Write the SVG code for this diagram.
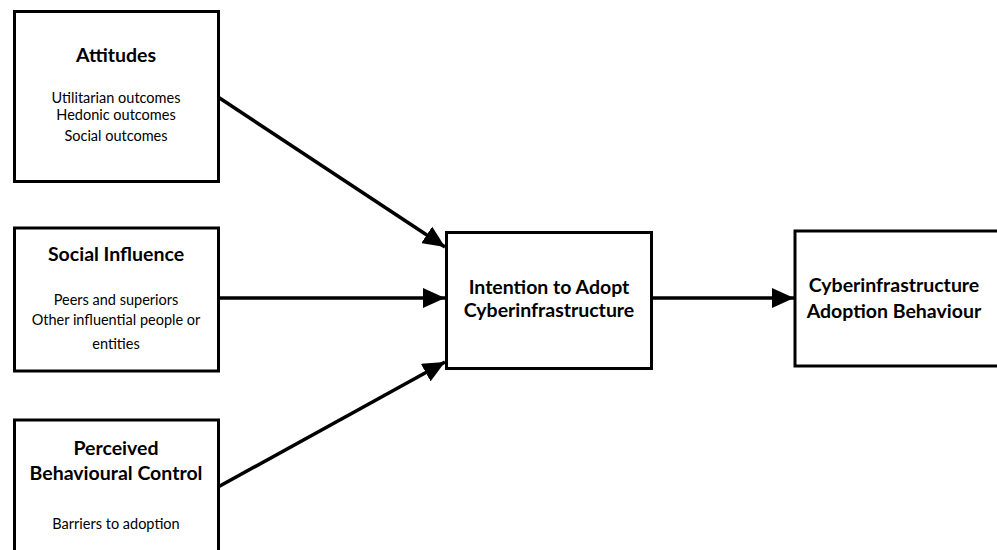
<svg xmlns="http://www.w3.org/2000/svg" width="997" height="550" viewBox="0 0 997 550">
<style>
.box{fill:#fff;stroke:#000;stroke-width:3}
.t{font-family:Lato,"Open Sans",sans-serif;font-weight:bold;font-size:19.5px;text-anchor:middle;fill:#000}
.s{font-family:Lato,"Open Sans",sans-serif;font-size:14.5px;text-anchor:middle;fill:#000}
.c{stroke:#000;stroke-width:3.5;fill:none;marker-end:url(#ah)}
</style>
<defs>
<marker id="ah" markerUnits="userSpaceOnUse" markerWidth="24" markerHeight="20" refX="22" refY="10" orient="auto">
<path d="M0,0 L22,10 L0,20 Z" fill="#000"/>
</marker>
</defs>
<rect width="997" height="550" fill="#fff"/>
<g id="connectors">
<line class="c" x1="218" y1="97" x2="445" y2="247"/>
<line class="c" x1="218" y1="298" x2="445" y2="298"/>
<line class="c" x1="218" y1="487" x2="445" y2="362"/>
<line class="c" x1="651" y1="298" x2="794" y2="298"/>
</g>
<g id="attitudes">
<rect class="box" x="14.5" y="11.5" width="204" height="170"/>
<text class="t" x="116" y="62">Attitudes</text>
<text class="s" x="116" y="103">Utilitarian outcomes</text>
<text class="s" x="116" y="120">Hedonic outcomes</text>
<text class="s" x="116" y="141">Social outcomes</text>
</g>
<g id="social">
<rect class="box" x="14.5" y="228" width="204" height="143"/>
<text class="t" x="116" y="261">Social Influence</text>
<text class="s" x="116" y="305">Peers and superiors</text>
<text class="s" x="116" y="325">Other influential people or</text>
<text class="s" x="116" y="349">entities</text>
</g>
<g id="pbc">
<rect class="box" x="14.5" y="420" width="204" height="140"/>
<text class="t" x="116" y="455">Perceived</text>
<text class="t" x="116" y="480">Behavioural Control</text>
<text class="s" x="116" y="529">Barriers to adoption</text>
</g>
<g id="intention">
<rect class="box" x="446.5" y="232.5" width="205" height="136"/>
<text class="t" x="549" y="294">Intention to Adopt</text>
<text class="t" x="549" y="317">Cyberinfrastructure</text>
</g>
<g id="behaviour">
<rect class="box" x="795" y="231" width="210" height="135"/>
<text class="t" x="894" y="292">Cyberinfrastructure</text>
<text class="t" x="894" y="318">Adoption Behaviour</text>
</g>
</svg>
